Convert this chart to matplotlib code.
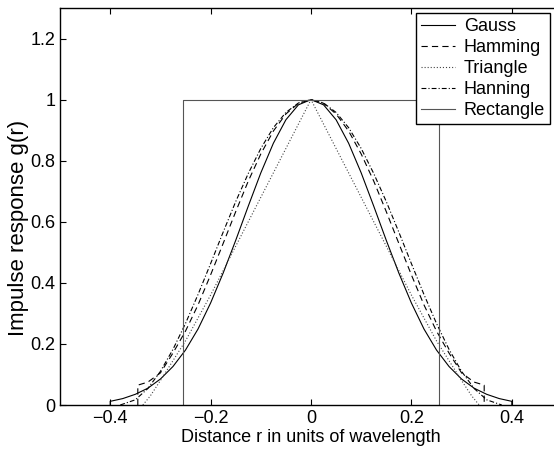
import matplotlib
matplotlib.use('Agg')
import matplotlib.pyplot as plt

plt.rcParams['font.family'] = ['Liberation Sans', 'DejaVu Sans']
plt.rcParams['lines.scale_dashes'] = False

# values
gauss_r = [-0.4, -0.4, -0.375, -0.35, -0.325, -0.3, -0.275, -0.25, -0.225, -0.2,
           -0.175, -0.15, -0.125, -0.1, -0.075, -0.05, -0.025, 0.0,
           0.025, 0.05, 0.075, 0.1, 0.125, 0.15, 0.175, 0.2, 0.225, 0.25,
           0.275, 0.3, 0.325, 0.35, 0.375, 0.4, 0.4]
gauss_g = [0.0, 0.012, 0.021, 0.035, 0.055, 0.085, 0.126, 0.180, 0.249, 0.334,
           0.432, 0.539, 0.651, 0.760, 0.857, 0.934, 0.983, 1.0,
           0.983, 0.934, 0.857, 0.760, 0.651, 0.539, 0.432, 0.334, 0.249, 0.180,
           0.126, 0.085, 0.055, 0.035, 0.021, 0.012, 0.0]

hamming_r = [-0.345, -0.345, -0.325, -0.3, -0.275, -0.25, -0.225, -0.2, -0.175,
             -0.15, -0.125, -0.1, -0.075, -0.05, -0.025, 0.0,
             0.025, 0.05, 0.075, 0.1, 0.125, 0.15, 0.175, 0.2, 0.225, 0.25,
             0.275, 0.3, 0.325, 0.345, 0.345]
hamming_g = [0.0, 0.065, 0.075, 0.105, 0.170, 0.242, 0.328, 0.426, 0.529,
             0.633, 0.733, 0.822, 0.897, 0.953, 0.988, 1.0,
             0.988, 0.953, 0.897, 0.822, 0.733, 0.633, 0.529, 0.426, 0.328, 0.242,
             0.170, 0.105, 0.075, 0.065, 0.0]

triangle_r = [-0.335, -0.32, -0.3, -0.25, -0.2, -0.15, -0.1, -0.05, 0.0,
              0.05, 0.1, 0.15, 0.2, 0.25, 0.3, 0.32, 0.335]
triangle_g = [0.0, 0.03, 0.08, 0.21, 0.36, 0.52, 0.68, 0.84, 1.0,
              0.84, 0.68, 0.52, 0.36, 0.21, 0.08, 0.03, 0.0]

hanning_r = [-0.38, -0.35, -0.325, -0.3, -0.275, -0.25, -0.225, -0.2, -0.175,
             -0.15, -0.125, -0.1, -0.075, -0.05, -0.025, 0.0,
             0.025, 0.05, 0.075, 0.1, 0.125, 0.15, 0.175, 0.2, 0.225, 0.25,
             0.275, 0.3, 0.325, 0.35, 0.38]
hanning_g = [0.0, 0.017, 0.054, 0.110, 0.182, 0.267, 0.362, 0.463, 0.566,
             0.666, 0.758, 0.840, 0.908, 0.958, 0.989, 1.0,
             0.989, 0.958, 0.908, 0.840, 0.758, 0.666, 0.566, 0.463, 0.362, 0.267,
             0.182, 0.110, 0.054, 0.017, 0.0]

rect_r = [-0.255, -0.255, 0.255, 0.255]
rect_g = [0.0, 1.0, 1.0, 0.0]

x_ticks = [-0.4, -0.2, 0, 0.2, 0.4]
x_labels = ['\u22120.4', '\u22120.2', '0', '0.2', '0.4']
y_ticks = [0, 0.2, 0.4, 0.6, 0.8, 1.0, 1.2]
y_labels = ['0', '0.2', '0.4', '0.6', '0.8', '1', '1.2']

fig = plt.figure(figsize=(5.54, 4.50), dpi=100)
# axes right edge runs past the image, as in the cropped original
ax = fig.add_axes([60 / 554, 45 / 450, 502 / 554, 397 / 450])

lw = 0.8
ax.plot(gauss_r, gauss_g, color='black', lw=lw, label='Gauss')
ax.plot(hamming_r, hamming_g, color='black', lw=lw, linestyle=(0, (4.5, 3)), label='Hamming')
ax.plot(triangle_r, triangle_g, color='#444444', lw=lw, linestyle=(0, (0.8, 1.4)), label='Triangle')
ax.plot(hanning_r, hanning_g, color='black', lw=lw, linestyle=(0, (3.5, 1.5, 0.8, 1.5)), label='Hanning')
ax.plot(rect_r, rect_g, color='#555555', lw=lw, label='Rectangle')

ax.set_xlim(-0.5, 0.5)
ax.set_ylim(0, 1.3)
ax.set_xticks(x_ticks)
ax.set_xticklabels(x_labels)
ax.set_yticks(y_ticks)
ax.set_yticklabels(y_labels)
ax.tick_params(direction='in', length=4, width=0.8, labelsize=13, pad=3.5,
               top=True, right=True)
for s in ax.spines.values():
    s.set_linewidth(1.0)

ax.set_xlabel('Distance r in units of wavelength', fontsize=13, labelpad=1.5)
ax.set_ylabel('Impulse response g(r)', fontsize=16)
ax.yaxis.set_label_coords(-0.062, 0.446)

leg = ax.legend(loc='upper right', bbox_to_anchor=(550 / 554, 1 - 13 / 450),
                bbox_transform=fig.transFigure, borderaxespad=0, fontsize=13,
                fancybox=False, edgecolor='black', framealpha=1,
                handlelength=1.85, handletextpad=0.5, labelspacing=0.22,
                borderpad=0.28)
leg.get_frame().set_linewidth(1.0)

fig.savefig('out.png', dpi=100)
